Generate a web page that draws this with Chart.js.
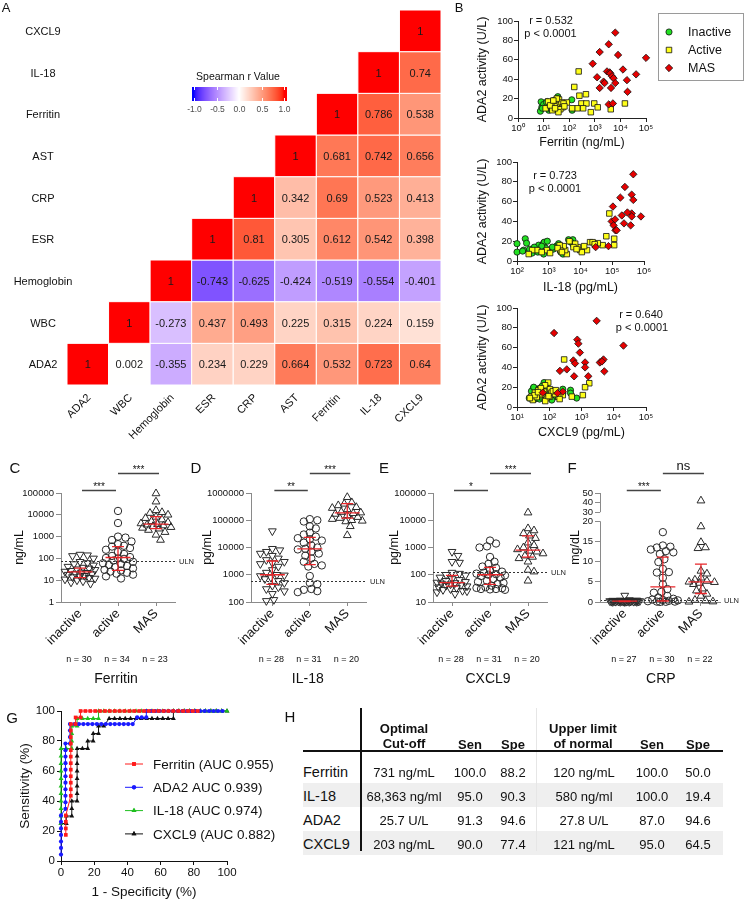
<!DOCTYPE html>
<html><head><meta charset="utf-8"><title>ADA2 figure</title>
<script src="https://cdn.jsdelivr.net/npm/chart.js@4.4.1/dist/chart.umd.min.js"></script>
<style>
html,body{margin:0;padding:0;background:#fff}
body{width:744px;height:900px;position:relative;overflow:hidden;font-family:'Liberation Sans',Arial,sans-serif;color:#111}
canvas{position:absolute;display:block}
.t{position:absolute;white-space:nowrap;transform:translate(-50%,-50%);line-height:1}
.l{position:absolute;white-space:nowrap;transform:translate(0,-50%);line-height:1}
.box{position:absolute}
</style></head><body>
<script>
// ---------------- DATA ----------------
// Panel A: Spearman correlation matrix (rows bottom->top, values from diagonal rightwards)
const hmVars = ['ADA2','WBC','Hemoglobin','ESR','CRP','AST','Ferritin','IL-18','CXCL9'];
const rADA2  = [1, 0.002, -0.355, 0.234, 0.229, 0.664, 0.532, 0.723, 0.64];
const rWBC   = [1, -0.273, 0.437, 0.493, 0.225, 0.315, 0.224, 0.159];
const rHb    = [1, -0.743, -0.625, -0.424, -0.519, -0.554, -0.401];
const rESR   = [1, 0.81, 0.305, 0.612, 0.542, 0.398];
const rCRP   = [1, 0.342, 0.69, 0.523, 0.413];
const rAST   = [1, 0.681, 0.742, 0.656];
const rFer   = [1, 0.786, 0.538];
const rIL18  = [1, 0.74];
const rCXCL9 = [1];
const cbarTicks = [-1, -0.5, 0, 0.5, 1];

// Panel B scatter data (x = marker, y = ADA2 activity)
const ferInX = [8, 8.5, 7.5, 36, 126, 130, 15, 20, 18, 12, 25, 22, 28, 14, 11, 30, 40, 10, 9, 16, 24, 32, 45, 13, 19, 17, 26, 21, 35, 23];
const ferInY = [16.7, 11, 7, 22, 18.8, 8, 14, 12, 16, 13, 10, 15, 9, 17, 12, 19, 15, 14, 10, 8, 18, 12, 11, 16, 13, 10, 14, 9, 20, 11];
const ferActX = [234, 158, 250, 450, 300, 470, 210, 350, 130, 700, 950, 1300, 4200, 15000, 81, 25, 30, 35, 40, 50, 55, 45, 27, 20, 15, 12, 60, 38, 22, 18, 28, 33, 65, 24];
const ferActY = [48, 32, 23, 24.5, 15, 15, 10, 10, 10, 6, 15, 11, 9, 15, 16, 17, 18, 14, 19, 16, 11, 9, 12, 14, 17, 10, 15, 6, 8, 13, 10, 20, 12, 18];
const ferMasX = [6300, 3500, 1550, 8100, 100000, 830, 12600, 3000, 3800, 4000, 4700, 5400, 6300, 41000, 1230, 18000, 2200, 2400, 1550, 4300, 19000, 3500, 5100];
const ferMasY = [88, 76, 68, 65, 62, 56, 50, 48, 47, 46, 43, 41, 36, 45, 42, 39, 37.5, 36, 31, 31, 27, 14, 15];

const il18InX = [100, 100, 182, 162, 480, 540, 690, 720, 690, 1120, 1740, 2040, 2400, 4200, 5750, 6000, 2800, 350, 150, 250, 300, 800, 1400, 3000, 600, 900, 200, 450, 1300, 5000];
const il18InY = [17.5, 9, 22.5, 11, 16, 11, 18, 19, 7, 11, 15, 17.5, 9, 21.5, 21.5, 16, 7, 14, 10, 12, 8, 13, 12, 10, 15, 20, 18, 9, 14, 19];
const il18ActX = [81000, 65000, 115000, 115000, 50000, 35000, 20000, 16000, 9800, 11000, 8300, 6800, 6000, 3700, 3300, 2950, 2300, 2200, 870, 430, 300, 234, 600, 1100, 1900, 2600, 4500, 13000, 24000, 28000, 7500];
const il18ActY = [48, 25, 22.5, 16, 16, 18, 19, 11, 11, 9, 14, 17.5, 14, 7, 11, 15, 11, 16, 11, 11, 11, 7, 9, 8, 13, 9, 20, 15, 19, 17, 12];
const il18MasX = [460000, 250000, 410000, 180000, 460000, 105000, 96000, 123000, 200000, 234000, 410000, 410000, 800000, 380000, 110000, 126000, 138000, 76000, 30000, 300000];
const il18MasY = [87.6, 74.8, 67, 64, 61.7, 55, 40, 42, 46, 38, 48, 45, 45, 36, 36, 31, 31, 15, 14, 49];

const cx9InX = [24, 32, 69, 79, 51, 263, 263, 457, 457, 708, 41, 58, 36, 93, 45, 30, 110, 60, 85, 38, 50, 70, 140, 28, 65, 120, 47, 33, 90, 55];
const cx9InY = [9, 19, 24.7, 22, 19, 18, 14, 17, 14, 9, 14, 10.5, 8, 10.5, 16, 13, 12, 21, 17, 11, 8, 15, 10, 16, 12, 7, 18, 20, 13, 10];
const cx9ActX = [290, 1740, 1290, 1100, 500, 263, 190, 93, 74, 105, 69, 46, 36, 28, 31, 51, 105, 117, 151, 83, 41, 60, 130, 210, 55, 35, 75, 95, 45, 160, 25];
const cx9ActY = [48, 24, 20, 12, 10.5, 12, 10.5, 24.7, 22, 18, 15.5, 17, 14.5, 10.5, 7, 12, 10.5, 14.5, 13, 9, 10, 13, 16, 8, 19, 12, 6, 11, 15, 17, 9];
const cx9MasX = [2950, 141, 740, 800, 20000, 890, 560, 630, 1290, 1290, 4800, 3700, 5100, 350, 214, 590, 1620, 263, 63, 180, 4300];
const cx9MasY = [87, 74.7, 68, 64, 62, 55, 47, 44, 45, 40, 48, 45, 36, 38, 36.5, 31, 31, 15.5, 14.5, 14, 46];

// Panels C-F: group values
const grpNames = ['inactive', 'active', 'MAS'];
const ferInactive = [150, 140, 130, 100, 70, 62, 55, 48, 42, 38, 35, 32, 30, 27, 25, 23, 22, 20, 19, 18, 16, 15, 14, 13, 12, 11, 10, 9, 8, 7];
const ferActive = [15000, 4200, 1000, 900, 700, 600, 450, 380, 350, 300, 250, 200, 160, 130, 115, 105, 100, 95, 80, 70, 60, 55, 50, 45, 40, 35, 30, 28, 25, 22, 20, 18, 15, 12];
const ferMAS = [95000, 40000, 16000, 13000, 12000, 10000, 8000, 7000, 6000, 5000, 4500, 4000, 3700, 3500, 3200, 3000, 2700, 2500, 2300, 2000, 1600, 1200, 700];
const il18Inactive = [40000, 9000, 8000, 7000, 6000, 5000, 4000, 3500, 3000, 2700, 2500, 2000, 1500, 1200, 1000, 950, 900, 800, 700, 600, 500, 400, 350, 300, 250, 200, 120, 110];
const il18Active = [110000, 100000, 90000, 60000, 50000, 35000, 30000, 25000, 22000, 20000, 18000, 15000, 12000, 10000, 9000, 8500, 7000, 6000, 5000, 4000, 3000, 2500, 2200, 2000, 900, 500, 450, 300, 280, 250, 230];
const il18MAS = [700000, 450000, 400000, 350000, 300000, 280000, 250000, 200000, 190000, 180000, 170000, 150000, 130000, 120000, 110000, 100000, 95000, 90000, 60000, 28000];
const cx9Inactive = [700, 500, 300, 280, 120, 110, 100, 95, 80, 70, 65, 60, 55, 52, 50, 48, 45, 42, 40, 38, 35, 33, 30, 28, 26, 25, 23, 20];
const cx9Active = [1800, 1400, 1100, 1000, 450, 300, 250, 200, 180, 150, 130, 120, 110, 105, 100, 95, 90, 80, 70, 60, 55, 50, 45, 40, 35, 33, 32, 30, 30, 29, 28];
const cx9MAS = [19000, 5000, 4200, 3300, 2700, 2200, 1500, 1200, 1000, 850, 750, 700, 600, 500, 450, 400, 300, 150, 130, 60];
const crpInactive = [1.6, 0.5, 0.4, 0.4, 0.35, 0.3, 0.3, 0.3, 0.25, 0.25, 0.2, 0.2, 0.2, 0.2, 0.15, 0.15, 0.15, 0.1, 0.1, 0.1, 0.1, 0.1, 0.05, 0.05, 0.05, 0.03, 0.02];
const crpActive = [17.3, 14, 13.7, 13.5, 13, 12.6, 12.3, 11.9, 10.6, 9.9, 8.2, 7.4, 7.3, 6, 4.4, 3.2, 2.5, 2.3, 1.5, 1.1, 0.8, 0.6, 0.5, 0.4, 0.3, 0.2, 0.1, 0.1, 0.05, 0.02];
const crpMAS = [42, 18.7, 14.8, 13.5, 13.3, 7.7, 7, 6, 5.5, 5.2, 5, 4.9, 4.7, 4.4, 3.3, 2.8, 2, 1.5, 0.5, 0.3, 0.1, 0.05];

// medians and interquartile ranges
const cMed = [24, 110, 3700],   cQ1 = [13, 28, 2300],    cQ3 = [36, 350, 8300];
const dMed = [1000, 8900, 185000], dQ1 = [440, 2350, 120000], dQ3 = [3200, 23500, 410000];
const eMed = [51, 100, 800],    eQ1 = [38, 44, 440],     eQ3 = [95, 186, 2650];
const fMed = [0.2, 3.75, 5.0],  fQ1 = [0.1, 0.25, 2.1],  fQ3 = [0.3, 11.1, 9.4];
const ulnValues = [75, 580, 121, 0.5];
const cN = ['n = 30', 'n = 34', 'n = 23'];
const dN = ['n = 28', 'n = 31', 'n = 20'];
const eN = ['n = 28', 'n = 31', 'n = 20'];
const fN = ['n = 27', 'n = 30', 'n = 22'];
const cSig = ['***', '***'], dSig = ['**', '***'], eSig = ['*', '***'], fSig = ['***', 'ns'];
const cTicks = [1, 10, 100, 1000, 10000, 100000];
const dTicks = [100, 1000, 10000, 100000, 1000000];
const eTicks = [10, 100, 1000, 10000, 100000];
const fTicks = [0, 5, 10, 15, 20, 30, 40, 50];

// Panel G: ROC curves [1-specificity %, sensitivity %]
const rocFerritin = [[2.9,17.4],[2.9,21.7],[2.9,26.1],[2.9,30.4],[5.9,43.5],[5.9,47.8],[5.9,52.2],[5.9,56.5],[5.9,60.9],[5.9,65.2],[5.9,69.6],[5.9,73.9],[5.9,78.3],[5.9,82.6],[5.9,87.0],[5.9,91.3],[8.8,91.3],[8.8,95.7],[11.8,95.7],[11.8,100],[14.7,100],[17.6,100],[20.6,100],[23.5,100],[26.5,100],[29.4,100],[32.4,100],[35.3,100],[38.2,100],[41.2,100],[44.1,100],[47.1,100],[50.0,100],[52.9,100],[55.9,100],[58.8,100],[61.8,100],[64.7,100],[67.6,100],[70.6,100],[73.5,100],[76.5,100],[79.4,100],[82.4,100]];
const rocADA2 = [[0,4.3],[0,8.7],[0,13.0],[0,17.4],[0,21.7],[0,26.1],[0,30.4],[2.7,34.8],[2.7,39.1],[2.7,43.5],[2.7,47.8],[2.7,52.2],[2.7,56.5],[2.7,60.9],[2.7,65.2],[2.7,69.6],[2.7,73.9],[2.7,78.3],[5.4,78.3],[5.4,82.6],[5.4,87.0],[5.4,91.3],[8.1,91.3],[10.8,91.3],[13.5,91.3],[16.2,91.3],[18.9,91.3],[21.6,91.3],[24.3,91.3],[27.0,91.3],[29.7,91.3],[32.4,91.3],[35.1,91.3],[37.8,91.3],[40.5,91.3],[43.2,91.3],[45.9,95.7],[48.6,95.7],[51.4,95.7],[51.4,100],[54.1,100],[56.8,100],[59.5,100],[62.2,100],[64.9,100],[67.6,100],[70.3,100],[73.0,100],[75.7,100],[78.4,100],[81.1,100],[83.8,100],[86.5,100],[89.2,100],[91.9,100],[94.6,100],[97.3,100]];
const rocIL18 = [[0,25],[0,30],[0,35],[0,40],[0,45],[0,50],[0,55],[0,60],[0,65],[0,70],[0,75],[3.2,75],[6.5,75],[6.5,80],[6.5,85],[6.5,90],[9.7,90],[9.7,95],[12.9,95],[16.1,95],[19.4,95],[22.6,95],[22.6,100],[25.8,100],[29.0,100],[32.3,100],[35.5,100],[38.7,100],[41.9,100],[45.2,100],[48.4,100],[51.6,100],[54.8,100],[58.1,100],[61.3,100],[64.5,100],[67.7,100],[71.0,100],[74.2,100],[77.4,100],[80.6,100],[83.9,100],[87.1,100],[90.3,100],[93.5,100],[96.8,100],[100,100]];
const rocCXCL9 = [[0,25],[3.2,25],[3.2,30],[6.5,30],[6.5,35],[6.5,40],[9.7,40],[9.7,45],[9.7,50],[9.7,55],[9.7,60],[9.7,65],[9.7,70],[9.7,75],[12.9,75],[16.1,75],[16.1,80],[19.4,80],[19.4,85],[22.6,85],[22.6,90],[25.8,90],[29.0,95],[32.3,95],[35.5,95],[38.7,95],[41.9,95],[45.2,95],[48.4,95],[51.6,95],[54.8,95],[58.1,95],[61.3,95],[64.5,95],[67.7,95],[67.7,100],[71.0,100],[74.2,100],[77.4,100],[80.6,100],[83.9,100],[87.1,100],[90.3,100],[93.5,100],[96.8,100],[100,100]];
const rocLabels = ['Ferritin (AUC 0.955)', 'ADA2 AUC 0.939)', 'IL-18 (AUC 0.974)', 'CXCL9 (AUC 0.882)'];

// Panel H table
const tblRows = ['Ferritin', 'IL-18', 'ADA2', 'CXCL9'];
const optCut = ['731 ng/mL', '68,363 ng/ml', '25.7 U/L', '203 ng/mL'];
const optSen = ['100.0', '95.0', '91.3', '90.0'];
const optSpe = ['88.2', '90.3', '94.6', '77.4'];
const ulnCut = ['120 ng/mL', '580 ng/ml', '27.8 U/L', '121 ng/mL'];
const ulnSen = ['100.0', '100.0', '87.0', '95.0'];
const ulnSpe = ['50.0', '19.4', '94.6', '64.5'];

// ---------------- HELPERS ----------------
const FONT = "'Liberation Sans', Arial, Helvetica, sans-serif";
Chart.defaults.font.family = FONT;
Chart.defaults.color = '#111';
Chart.defaults.animation = false;
Chart.defaults.responsive = false;
Chart.defaults.plugins.legend.display = false;
Chart.defaults.plugins.tooltip.enabled = false;
const SUP = ['\u2070', '\u00b9', '\u00b2', '\u00b3', '\u2074', '\u2075', '\u2076'];
const zip = (xs, ys) => xs.map((x, i) => ({ x: x, y: ys[i] }));
function mk(l, t, w, h) {
  const c = document.createElement('canvas');
  c.width = w; c.height = h;
  c.style.left = l + 'px'; c.style.top = t + 'px';
  c.style.width = w + 'px'; c.style.height = h + 'px';
  document.body.appendChild(c);
  return c;
}
function txt(cls, x, y, s, css) {
  const d = document.createElement('div');
  d.className = cls; d.style.left = x + 'px'; d.style.top = y + 'px';
  d.textContent = s; if (css) d.style.cssText += css;
  document.body.appendChild(d); return d;
}
function rect(x, y, w, h, bg) {
  const d = document.createElement('div');
  d.className = 'box';
  d.style.cssText += 'left:' + x + 'px;top:' + y + 'px;width:' + w + 'px;height:' + h + 'px;background:' + bg;
  document.body.appendChild(d); return d;
}
// Lab colour interpolation (ggplot2 gradient2 style)
function toLin(c) { c /= 255; return c <= 0.04045 ? c / 12.92 : Math.pow((c + 0.055) / 1.055, 2.4); }
function toSrgb(c) { c = c <= 0.0031308 ? 12.92 * c : 1.055 * Math.pow(c, 1 / 2.4) - 0.055; return Math.round(Math.min(1, Math.max(0, c)) * 255); }
function rgb2lab(rgb) {
  const r = toLin(rgb[0]), g = toLin(rgb[1]), b = toLin(rgb[2]);
  const X = (0.4124564 * r + 0.3575761 * g + 0.1804375 * b) / 0.95047;
  const Y = (0.2126729 * r + 0.7151522 * g + 0.0721750 * b);
  const Z = (0.0193339 * r + 0.1191920 * g + 0.9503041 * b) / 1.08883;
  const f = t => t > 0.008856 ? Math.cbrt(t) : 7.787 * t + 16 / 116;
  const fx = f(X), fy = f(Y), fz = f(Z);
  return [116 * fy - 16, 500 * (fx - fy), 200 * (fy - fz)];
}
function lab2rgb(lab) {
  const fy = (lab[0] + 16) / 116, fx = fy + lab[1] / 500, fz = fy - lab[2] / 200;
  const fi = t => t * t * t > 0.008856 ? t * t * t : (t - 16 / 116) / 7.787;
  const X = fi(fx) * 0.95047, Y = fi(fy), Z = fi(fz) * 1.08883;
  const r = 3.2404542 * X - 1.5371385 * Y - 0.4985314 * Z;
  const g = -0.9692660 * X + 1.8760108 * Y + 0.0415560 * Z;
  const b = 0.0556434 * X - 0.2040259 * Y + 1.0572252 * Z;
  return [toSrgb(r), toSrgb(g), toSrgb(b)];
}
const LAB_W = rgb2lab([255, 255, 255]), LAB_R = rgb2lab([255, 0, 0]), LAB_B = rgb2lab([0, 0, 255]);
function corrColor(v) {
  v = Math.max(-1, Math.min(1, v));
  const end = v >= 0 ? LAB_R : LAB_B, t = Math.abs(v);
  const lab = [0, 1, 2].map(i => LAB_W[i] + (end[i] - LAB_W[i]) * t);
  const c = lab2rgb(lab);
  return 'rgb(' + c[0] + ',' + c[1] + ',' + c[2] + ')';
}

// ---------------- PANEL A: heatmap ----------------
const hmRows = [rADA2, rWBC, rHb, rESR, rCRP, rAST, rFer, rIL18, rCXCL9];
const heatPlugin = {
  id: 'heat',
  afterDraw(chart) {
    const ctx = chart.ctx, ca = chart.chartArea, x = chart.scales.x, y = chart.scales.y;
    ctx.save();
    ctx.font = '11px ' + FONT;
    ctx.textAlign = 'center'; ctx.textBaseline = 'middle';
    hmRows.forEach((row, i) => {
      row.forEach((v, k) => {
        const j = i + k;
        const x0 = x.getPixelForValue(j - 0.5), x1 = x.getPixelForValue(j + 0.5);
        const y0 = y.getPixelForValue(i + 0.5), y1 = y.getPixelForValue(i - 0.5);
        ctx.fillStyle = corrColor(v);
        ctx.fillRect(x0, y0, x1 - x0, y1 - y0);
        ctx.strokeStyle = '#ffffff'; ctx.lineWidth = 1;
        ctx.strokeRect(x0, y0, x1 - x0, y1 - y0);
        ctx.fillStyle = '#1a1a1a';
        ctx.fillText(String(v), (x0 + x1) / 2, (y0 + y1) / 2 + 1);
      });
    });
    ctx.fillStyle = '#111';
    hmVars.forEach((name, i) => {
      ctx.textAlign = 'center';
      ctx.fillText(name, ca.left - 24, y.getPixelForValue(i) + 1);
    });
    hmVars.forEach((name, j) => {
      ctx.save();
      ctx.translate(x.getPixelForValue(j) + 1.5, ca.bottom + 11);
      ctx.rotate(-Math.PI / 4);
      ctx.textAlign = 'right'; ctx.textBaseline = 'middle';
      ctx.fillText(name, 0, 0);
      ctx.restore();
    });
    // colour bar legend
    const bx0 = 192, bx1 = 287, by0 = 87, by1 = 101, vx0 = 194, vx1 = 284;
    for (let px = bx0; px < bx1; px++) {
      const v = -1 + (px + 0.5 - vx0) * 2 / (vx1 - vx0);
      ctx.fillStyle = corrColor(v);
      ctx.fillRect(px, by0, 1, by1 - by0);
    }
    ctx.strokeStyle = '#fff'; ctx.lineWidth = 1;
    ctx.fillStyle = '#4d4d4d'; ctx.font = '8.5px ' + FONT; ctx.textAlign = 'center';
    cbarTicks.forEach(tv => {
      const px = Math.round(vx0 + (tv + 1) / 2 * (vx1 - vx0)) + 0.5;
      ctx.beginPath(); ctx.moveTo(px, by0); ctx.lineTo(px, by0 + 3); ctx.moveTo(px, by1 - 3); ctx.lineTo(px, by1); ctx.stroke();
      ctx.fillText(tv.toFixed(1), px, 110);
    });
    ctx.fillStyle = '#111'; ctx.font = '10.5px ' + FONT;
    ctx.fillText('Spearman r Value', 238, 77);
    ctx.restore();
  }
};
new Chart(mk(0, 0, 470, 450), {
  type: 'scatter',
  data: { datasets: [] },
  options: {
    layout: { padding: { left: 67, right: 29, top: 10, bottom: 65 } },
    scales: { x: { type: 'linear', min: -0.5, max: 8.5, display: false }, y: { type: 'linear', min: -0.5, max: 8.5, display: false } }
  },
  plugins: [heatPlugin]
});

// ---------------- PANEL B: scatter plots ----------------
function drawMarker(ctx, style, x, y, r, fill) {
  ctx.fillStyle = fill; ctx.strokeStyle = '#111'; ctx.lineWidth = 0.8;
  ctx.beginPath();
  if (style === 'circle') ctx.arc(x, y, r, 0, Math.PI * 2);
  else if (style === 'rect') { const s = r * Math.SQRT1_2; ctx.rect(x - s, y - s, 2 * s, 2 * s); }
  else { ctx.moveTo(x, y - r); ctx.lineTo(x + r, y); ctx.lineTo(x, y + r); ctx.lineTo(x - r, y); ctx.closePath(); }
  ctx.fill(); ctx.stroke();
}
const B_STYLES = [
  { name: 'Inactive', style: 'circle', r: 3.1, color: '#22e022' },
  { name: 'Active', style: 'rect', r: 3.9, color: '#ffff1a' },
  { name: 'MAS', style: 'rectRot', r: 3.7, color: '#e60000' }
];
function bChart(top, h, c) {
  const sets = [zip(c.inX, c.inY), zip(c.acX, c.acY), zip(c.maX, c.maY)];
  const ds = [2, 1, 0].map(k => ({
    data: sets[k], pointStyle: B_STYLES[k].style, pointRadius: B_STYLES[k].r,
    pointBackgroundColor: B_STYLES[k].color, pointBorderColor: '#111', pointBorderWidth: 0.8, clip: false
  }));
  const plug = {
    id: 'bann',
    afterDraw(chart) {
      const ctx = chart.ctx;
      ctx.save();
      ctx.fillStyle = '#111'; ctx.font = '11px ' + FONT; ctx.textAlign = 'center'; ctx.textBaseline = 'middle';
      ctx.fillText(c.rTxt, c.rx, c.ry);
      ctx.fillText('p < 0.0001', c.px, c.py);
      if (c.legend) {
        ctx.strokeStyle = '#9a9a9a'; ctx.lineWidth = 1;
        ctx.strokeRect(188.5, 13.5, 85, 67);
        ctx.font = '12.5px ' + FONT; ctx.textAlign = 'left';
        B_STYLES.forEach((s, i) => {
          const yy = 32 + i * 18;
          drawMarker(ctx, s.style, 199, yy, s.r, s.color);
          ctx.fillStyle = '#111';
          ctx.fillText(s.name, 218, yy + 1);
        });
      }
      ctx.restore();
    }
  };
  new Chart(mk(470, top, 274, h), {
    type: 'scatter',
    data: { datasets: ds },
    options: {
      layout: { padding: { top: c.pt, right: c.pr, left: 0, bottom: 0 } },
      scales: {
        x: {
          type: 'logarithmic', min: c.xTicks[0], max: c.xTicks[c.xTicks.length - 1],
          afterFit: s => { s.height = c.xh; },
          afterBuildTicks: s => { s.ticks = c.xTicks.map(v => ({ value: v })); },
          border: { color: '#222', width: 1 },
          grid: { drawOnChartArea: false, drawTicks: true, tickLength: 4, color: '#222' },
          ticks: { padding: 1, font: { size: 9.5 }, color: '#111', maxRotation: 0, autoSkip: false,
            callback: v => '10' + SUP[Math.round(Math.log10(v))] },
          title: { display: true, text: c.xTitle, font: { size: 12.5 }, padding: { top: 0, bottom: 0 }, color: '#111' }
        },
        y: {
          min: 0, max: 100,
          afterFit: s => { s.width = c.yw; },
          border: { color: '#222', width: 1 },
          grid: { drawOnChartArea: false, drawTicks: true, tickLength: 4, color: '#222' },
          ticks: { stepSize: 20, padding: 1, font: { size: 9.5 }, color: '#111' },
          title: { display: true, text: 'ADA2 activity (U/L)', font: { size: 12.5 }, padding: { top: 5.5, bottom: 0 }, color: '#111' }
        }
      }
    },
    plugins: [plug]
  });
}
bChart(0, 150, { inX: ferInX, inY: ferInY, acX: ferActX, acY: ferActY, maX: ferMasX, maY: ferMasY,
  xTicks: [1, 10, 100, 1000, 10000, 100000], xTitle: 'Ferritin (ng/mL)', pt: 21, pr: 98, yw: 48, xh: 32,
  rTxt: 'r = 0.532', rx: 81, ry: 21, px: 80.5, py: 34, legend: true });
bChart(150, 145, { inX: il18InX, inY: il18InY, acX: il18ActX, acY: il18ActY, maX: il18MasX, maY: il18MasY,
  xTicks: [100, 1000, 10000, 100000, 1000000], xTitle: 'IL-18 (pg/mL)', pt: 12, pr: 100, yw: 47, xh: 34,
  rTxt: 'r = 0.723', rx: 85, ry: 26, px: 85, py: 39, legend: false });
bChart(295, 145, { inX: cx9InX, inY: cx9InY, acX: cx9ActX, acY: cx9ActY, maX: cx9MasX, maY: cx9MasY,
  xTicks: [10, 100, 1000, 10000, 100000], xTitle: 'CXCL9 (pg/mL)', pt: 13, pr: 98, yw: 47, xh: 33,
  rTxt: 'r = 0.640', rx: 171, ry: 20, px: 172, py: 33, legend: false });

// ---------------- PANELS C-F: dot plots ----------------
const AXG = '#8a8a8a';
const RED = '#e8262a';
// simple beeswarm: spreads overlapping markers sideways, limited half-width
function swarm(chart, d, maxOff) {
  const xs = chart.scales.x, ys = chart.scales.y;
  chart.data.datasets.forEach(ds => {
    const cx = xs.getPixelForValue(ds.cat);
    const pts = ds.data.map((p, i) => ({ i: i, py: ys.getPixelForValue(p.y) }));
    pts.sort((a, b) => a.py - b.py);
    const placed = [];
    const out = ds.data.map(p => ({ x: p.x, y: p.y }));
    pts.forEach(p => {
      let best = null, bestScore = -1;
      const nCand = Math.floor(maxOff / 1.5) * 2 + 1;
      for (let k = 0; k < nCand; k++) {
        const off = (k % 2 ? 1 : -1) * Math.ceil(k / 2) * 1.5;
        const px = cx + off;
        let minD = Infinity;
        placed.forEach(q => { const dd = Math.hypot(q.px - px, q.py - p.py); if (dd < minD) minD = dd; });
        if (minD >= d) { best = px; break; }
        if (minD > bestScore + 0.01) { bestScore = minD; best = px; }
      }
      placed.push({ px: best, py: p.py });
      out[p.i].x = xs.getValueForPixel(best);
    });
    ds.data = out;
  });
  chart.update('none');
}
function dotChart(left, w, cfg) {
  const cv = mk(left, 450, w, 240);
  const tf = cfg.tf || (v => v);
  const datasets = cfg.groups.map((vals, k) => ({
    data: vals.map(v => ({ x: k + 1, y: tf(v) })),
    cat: k + 1,
    pointStyle: k === 1 ? 'circle' : 'triangle',
    pointRotation: k === 0 ? 180 : 0,
    pointRadius: k === 1 ? 3.7 : 4.5,
    pointBorderColor: '#2a2a2a', pointBorderWidth: 1, pointBackgroundColor: 'rgba(255,255,255,0)', clip: false
  }));
  const plug = {
    id: 'dots',
    afterDatasetsDraw(chart) {
      const ctx = chart.ctx, ca = chart.chartArea, x = chart.scales.x, y = chart.scales.y;
      ctx.save();
      // ULN
      const uy = Math.round(y.getPixelForValue(tf(cfg.uln))) + 0.5;
      ctx.strokeStyle = '#333'; ctx.lineWidth = 1; ctx.setLineDash([2, 2]);
      ctx.beginPath(); ctx.moveTo(ca.left, uy); ctx.lineTo(ca.right, uy); ctx.stroke();
      ctx.setLineDash([]);
      ctx.fillStyle = '#222'; ctx.font = '7.5px ' + FONT; ctx.textAlign = 'left'; ctx.textBaseline = 'middle';
      ctx.fillText('ULN', ca.right + 4, uy);
      // median + IQR
      ctx.strokeStyle = RED; ctx.lineWidth = 1.3;
      for (let k = 0; k < 3; k++) {
        const cx = x.getPixelForValue(k + 1);
        const ym = y.getPixelForValue(tf(cfg.med[k])), y1 = y.getPixelForValue(tf(cfg.q1[k])), y3 = y.getPixelForValue(tf(cfg.q3[k]));
        ctx.beginPath();
        ctx.moveTo(cx - 12.5, ym); ctx.lineTo(cx + 12.5, ym);
        ctx.moveTo(cx, y1); ctx.lineTo(cx, y3);
        ctx.moveTo(cx - 6, y1); ctx.lineTo(cx + 6, y1);
        ctx.moveTo(cx - 6, y3); ctx.lineTo(cx + 6, y3);
        ctx.stroke();
      }
      ctx.restore();
    },
    afterDraw(chart) {
      const ctx = chart.ctx, ca = chart.chartArea, x = chart.scales.x, y = chart.scales.y;
      ctx.save();
      if (cfg.brk) {
        ctx.strokeStyle = AXG; ctx.lineWidth = 1;
        const lx = ca.left + 0.5;
        ctx.beginPath();
        ctx.moveTo(lx, y.getPixelForValue(tf(0))); ctx.lineTo(lx, y.getPixelForValue(tf(20)));
        ctx.moveTo(lx, y.getPixelForValue(tf(30))); ctx.lineTo(lx, y.getPixelForValue(tf(50)));
        ctx.stroke();
      }
      // significance bars
      ctx.strokeStyle = '#444'; ctx.lineWidth = 1.3; ctx.fillStyle = '#111'; ctx.textAlign = 'center'; ctx.textBaseline = 'alphabetic';
      cfg.sig.forEach((s, lvl) => {
        const a = lvl === 0 ? 1 : 2, b = lvl === 0 ? 2 : 3;
        const xa = x.getPixelForValue(a) + (lvl === 0 ? 2 : 0), xb = x.getPixelForValue(b) + (lvl === 0 ? -2 : 3);
        const ly = Math.round(ca.top - (lvl === 0 ? 3 : 20)) + 0.5;
        ctx.beginPath(); ctx.moveTo(xa, ly); ctx.lineTo(xb, ly); ctx.stroke();
        if (s === 'ns') { ctx.font = '13px ' + FONT; ctx.fillText(s, (xa + xb) / 2, ly - 4); }
        else { ctx.font = '10px ' + FONT; ctx.fillText(s, (xa + xb) / 2, ly - 1); }
      });
      // n labels and marker title
      ctx.textBaseline = 'middle';
      ctx.font = '9px ' + FONT;
      cfg.n.forEach((s, k) => ctx.fillText(s, x.getPixelForValue(k + 1) - 1, ca.bottom + 58));
      ctx.font = '14px ' + FONT;
      ctx.fillText(cfg.title, x.getPixelForValue(2) - 2, ca.bottom + 77);
      ctx.restore();
    }
  };
  const ch = new Chart(cv, {
    type: 'scatter',
    data: { datasets: datasets },
    options: {
      layout: { padding: { top: 43, right: cfg.rp, left: 0, bottom: 0 } },
      scales: {
        x: {
          type: 'linear', min: cfg.xmin, max: 3.5,
          afterFit: s => { s.height = 88; },
          afterBuildTicks: s => { s.ticks = [1, 2, 3].map(v => ({ value: v })); },
          border: { color: AXG, width: 1 },
          grid: { drawOnChartArea: false, drawTicks: true, tickLength: 4, color: AXG },
          ticks: { autoSkip: false, minRotation: 45, maxRotation: 45, padding: 0, font: { size: 13 }, color: '#111',
            callback: v => grpNames[Math.round(v) - 1] }
        },
        y: {
          type: cfg.log ? 'logarithmic' : 'linear', min: tf(cfg.yTicks[0]), max: tf(cfg.yTicks[cfg.yTicks.length - 1]),
          afterFit: s => { s.width = cfg.yw; },
          afterBuildTicks: s => { s.ticks = cfg.yTicks.map(v => ({ value: tf(v) })); },
          border: { display: !cfg.brk, color: AXG, width: 1 },
          grid: { drawOnChartArea: false, drawTicks: true, tickLength: 5, color: AXG },
          ticks: { font: { size: 9.5 }, padding: 2, color: '#111', autoSkip: false, callback: (v, i) => String(cfg.yTicks[i]) },
          title: { display: true, text: cfg.yTitle, font: { size: 12.5 }, padding: { top: cfg.ytp, bottom: 0 }, color: '#111' }
        }
      }
    },
    plugins: [plug]
  });
  swarm(ch, 6.2, 15);
  return ch;
}
dotChart(0, 200, { groups: [ferInactive, ferActive, ferMAS], log: true, yTicks: cTicks, yw: 61, rp: 25, xmin: 0.5,
  yTitle: 'ng/mL', ytp: 12.5, med: cMed, q1: cQ1, q3: cQ3, uln: ulnValues[0], sig: cSig, n: cN, title: 'Ferritin' });
dotChart(186, 204, { groups: [il18Inactive, il18Active, il18MAS], log: true, yTicks: dTicks, yw: 65, rp: 24, xmin: 0.43,
  yTitle: 'pg/mL', ytp: 14.5, med: dMed, q1: dQ1, q3: dQ3, uln: ulnValues[1], sig: dSig, n: dN, title: 'IL-18' });
dotChart(372, 200, { groups: [cx9Inactive, cx9Active, cx9MAS], log: true, yTicks: eTicks, yw: 61, rp: 25, xmin: 0.5,
  yTitle: 'pg/mL', ytp: 15.5, med: eMed, q1: eQ1, q3: eQ3, uln: ulnValues[2], sig: eSig, n: eN, title: 'CXCL9' });
const crpT = v => v <= 20 ? v : 22.25 + (v - 30) * 0.2375;
dotChart(558, 186, { groups: [crpInactive, crpActive, crpMAS], log: false, tf: crpT, brk: true, yTicks: fTicks, yw: 42, rp: 24, xmin: 0.35,
  yTitle: 'mg/dL', ytp: 10.5, med: fMed, q1: fQ1, q3: fQ3, uln: ulnValues[3], sig: fSig, n: fN, title: 'CRP' });

// ---------------- PANEL G: ROC ----------------
const rocSets = [
  { data: rocFerritin, color: '#ff1a1a', style: 'rect', r: 2.6 },
  { data: rocADA2, color: '#1a1aff', style: 'circle', r: 2.1 },
  { data: rocIL18, color: '#1fbf1f', style: 'triangle', r: 2.8 },
  { data: rocCXCL9, color: '#111111', style: 'triangle', r: 2.8 }
];
const rocPlug = {
  id: 'rocleg',
  afterDraw(chart) {
    const ctx = chart.ctx;
    ctx.save();
    ctx.font = '13.5px ' + FONT; ctx.textAlign = 'left'; ctx.textBaseline = 'middle';
    rocSets.forEach((s, i) => {
      const yy = 74 + i * 23.3;
      ctx.strokeStyle = s.color; ctx.lineWidth = 1;
      ctx.beginPath(); ctx.moveTo(125, yy); ctx.lineTo(143, yy); ctx.stroke();
      ctx.fillStyle = s.color;
      Chart.helpers.drawPoint(ctx, { pointStyle: s.style, radius: s.r, rotation: 0, borderWidth: 0 }, 134, yy);
      ctx.fill();
      ctx.fillStyle = '#111';
      ctx.fillText(rocLabels[i], 153, yy + 1);
    });
    ctx.restore();
  }
};
new Chart(mk(0, 690, 290, 210), {
  type: 'scatter',
  data: { datasets: rocSets.map(s => ({
    data: s.data.map(p => ({ x: p[0], y: p[1] })), showLine: true, tension: 0,
    borderColor: s.color, borderWidth: 1, pointStyle: s.style, pointRadius: s.r,
    pointBackgroundColor: s.color, pointBorderColor: s.color, pointBorderWidth: 0, clip: false
  })) },
  options: {
    layout: { padding: { top: 21, right: 63, left: 0, bottom: 0 } },
    scales: {
      x: { min: 0, max: 100, afterFit: s => { s.height = 39; },
        border: { color: '#111', width: 1 }, grid: { drawOnChartArea: false, drawTicks: true, tickLength: 4, color: '#111' },
        ticks: { stepSize: 20, padding: 1, font: { size: 11.5 }, color: '#111', maxRotation: 0 },
        title: { display: true, text: '1 - Specificity (%)', font: { size: 13.5 }, padding: { top: 0, bottom: 0 }, color: '#111' } },
      y: { min: 0, max: 100, afterFit: s => { s.width = 61; },
        border: { color: '#111', width: 1 }, grid: { drawOnChartArea: false, drawTicks: true, tickLength: 4, color: '#111' },
        ticks: { stepSize: 20, padding: 2, font: { size: 11.5 }, color: '#111' },
        title: { display: true, text: 'Sensitivity (%)', font: { size: 13.5 }, padding: { top: 17, bottom: 0 }, color: '#111' } }
    }
  },
  plugins: [rocPlug]
});

// ---------------- PANEL H: table ----------------
const rowY = [771.5, 796, 820, 844];
[1, 3].forEach(i => rect(303, rowY[i] - 13, 420, 24, '#efefef'));
rect(536, 708, 1, 143, '#e6e6e6');
rect(360, 708, 2, 143, '#111');
rect(303, 750, 420, 2, '#111');
const HB = 'font-size:13px;font-weight:bold;';
txt('t', 404, 728, 'Optimal', HB); txt('t', 404, 743, 'Cut-off', HB);
txt('t', 470, 744, 'Sen', HB); txt('t', 513, 744, 'Spe', HB);
txt('t', 583, 728, 'Upper limit', HB); txt('t', 583, 743, 'of normal', HB);
txt('t', 652, 744, 'Sen', HB); txt('t', 698, 744, 'Spe', HB);
tblRows.forEach((name, i) => {
  const yy = rowY[i];
  txt('l', 303, yy, name, 'font-size:14.5px;');
  const V = 'font-size:13px;';
  txt('t', 404, yy, optCut[i], V);
  txt('t', 470, yy, optSen[i], V);
  txt('t', 513, yy, optSpe[i], V);
  txt('t', 584, yy, ulnCut[i], V);
  txt('t', 652, yy, ulnSen[i], V);
  txt('t', 698, yy, ulnSpe[i], V);
});

// ---------------- panel letters ----------------
txt('t', 6, 7, 'A', 'font-size:13px;');
txt('t', 459, 7, 'B', 'font-size:13px;');
txt('t', 15, 467, 'C', 'font-size:15px;');
txt('t', 196, 467, 'D', 'font-size:15px;');
txt('t', 384, 467, 'E', 'font-size:15px;');
txt('t', 572, 467, 'F', 'font-size:15px;');
txt('t', 12, 717, 'G', 'font-size:15px;');
txt('t', 290, 716, 'H', 'font-size:15px;');
</script>
</body></html>
